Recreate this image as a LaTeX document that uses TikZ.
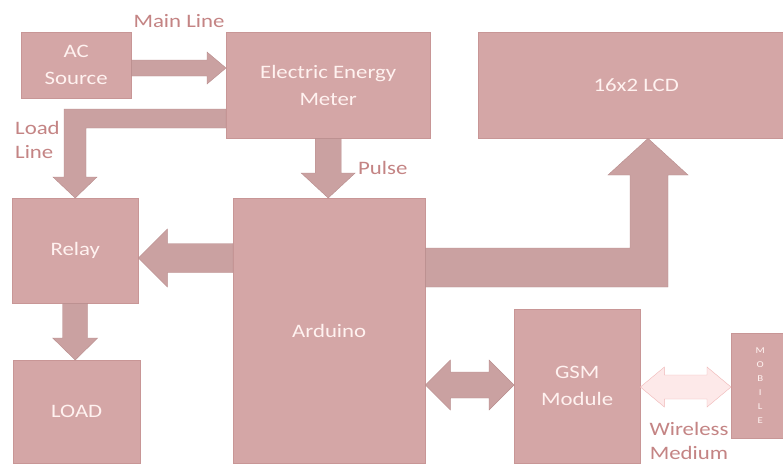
\documentclass[tikz,border=0pt]{standalone}
\usepackage{fontspec}
\setmainfont[FakeStretch=1.2]{Carlito}
\usetikzlibrary{calc,positioning}

\definecolor{boxfill}{RGB}{212,166,166}
\definecolor{boxline}{RGB}{200,150,150}
\definecolor{arrowfill}{RGB}{202,161,161}
\definecolor{arrowline}{RGB}{184,140,140}
\definecolor{boxtext}{RGB}{255,242,240}
\definecolor{labeltext}{RGB}{196,132,132}
\definecolor{palefill}{RGB}{253,233,233}
\definecolor{paleline}{RGB}{240,182,182}

\tikzset{
  block/.style     = {draw=boxline, fill=boxfill, text=boxtext, anchor=north west,
                      inner sep=0pt, align=center, font=\fontsize{19}{27}\selectfont},
  note/.style      = {text=labeltext, inner sep=0pt, align=center,
                      font=\fontsize{19}{24}\selectfont},
  fatarrow/.style  = {draw=arrowline, fill=arrowfill, line join=miter},
  palearrow/.style = {draw=paleline, fill=palefill, line join=miter},
  arr shaft/.store in = \arrshaft, arr shaft=10pt,
  arr head/.store in  = \arrhead,  arr head=20pt,
  arr len/.store in   = \arrlen,   arr len=20pt,
  fat/.style={to path={
    ($(\tikztostart)!\arrshaft!90:(\tikztotarget)$)
    -- ($($(\tikztotarget)!\arrlen!(\tikztostart)$)!\arrshaft!90:(\tikztotarget)$)
    -- ($($(\tikztotarget)!\arrlen!(\tikztostart)$)!\arrhead!90:(\tikztotarget)$)
    -- (\tikztotarget)
    -- ($($(\tikztotarget)!\arrlen!(\tikztostart)$)!\arrhead!-90:(\tikztotarget)$)
    -- ($($(\tikztotarget)!\arrlen!(\tikztostart)$)!\arrshaft!-90:(\tikztotarget)$)
    -- ($(\tikztostart)!\arrshaft!-90:(\tikztotarget)$) -- cycle}},
  fat both/.style={to path={
    (\tikztostart)
    -- ($($(\tikztostart)!\arrlen!(\tikztotarget)$)!\arrhead!90:(\tikztotarget)$)
    -- ($($(\tikztostart)!\arrlen!(\tikztotarget)$)!\arrshaft!90:(\tikztotarget)$)
    -- ($($(\tikztotarget)!\arrlen!(\tikztostart)$)!\arrshaft!90:(\tikztotarget)$)
    -- ($($(\tikztotarget)!\arrlen!(\tikztostart)$)!\arrhead!90:(\tikztotarget)$)
    -- (\tikztotarget)
    -- ($($(\tikztotarget)!\arrlen!(\tikztostart)$)!\arrhead!-90:(\tikztotarget)$)
    -- ($($(\tikztotarget)!\arrlen!(\tikztostart)$)!\arrshaft!-90:(\tikztotarget)$)
    -- ($($(\tikztostart)!\arrlen!(\tikztotarget)$)!\arrshaft!-90:(\tikztotarget)$)
    -- ($($(\tikztostart)!\arrlen!(\tikztotarget)$)!\arrhead!-90:(\tikztotarget)$)
    -- cycle}}
}

\begin{document}
\begin{tikzpicture}[x=1pt, y=-1pt]
    \fill[white] (0,0) rectangle (783,464);
    \useasboundingbox (0,0) rectangle (783,464);

    % blocks
    \node[block, minimum width=110pt, minimum height=66pt]  (ac)      at (21,32)  {AC\\Source};
    \node[block, minimum width=204pt, minimum height=106pt] (meter)   at (226,32) {Electric Energy\\Meter};
    \node[block, minimum width=316pt, minimum height=106pt] (lcd)     at (478,32) {16x2 LCD};
    \node[block, minimum width=126pt, minimum height=105pt] (relay)   at (12,198) {Relay};
    \node[block, minimum width=127pt, minimum height=103pt] (load)    at (13,360) {LOAD};
    \node[block, minimum width=192pt, minimum height=265pt] (arduino) at (233,198) {Arduino};
    \node[block, minimum width=126pt, minimum height=154pt] (gsm)     at (514,309) {GSM\\Module};
    \node[block, minimum width=58pt, minimum height=105pt,
          font=\fontsize{9}{14}\selectfont]                 (mobile)  at (731,333) {M\\O\\B\\I\\L\\E};

    % connectors
    \draw[fatarrow, fat, arr shaft=8pt, arr head=16pt, arr len=19pt]
      (ac.east |- 0,68) to (meter.west |- 0,68);
    \filldraw[fatarrow] (meter.west |- 0,109) -- (64,109) -- (64,177) -- (53,177)
      -- (relay.north) -- (97,177) -- (86,177) -- (86,128) -- (meter.west |- 0,128) -- cycle;
    \draw[fatarrow, fat, arr shaft=13pt, arr head=27pt, arr len=25pt]
      (meter.south) to (meter.south |- arduino.north);
    \draw[fatarrow, fat, arr shaft=14.5pt, arr head=29pt, arr len=29pt]
      (arduino.west |- 0,258) to (relay.east |- 0,258);
    \draw[fatarrow, fat, arr shaft=12.5pt, arr head=22.5pt, arr len=22pt]
      (relay.south) to (relay.south |- load.north);
    \filldraw[fatarrow] (arduino.east |- 0,248) -- (630,248) -- (630,175) -- (608,175)
      -- (lcd.south -| 648,0) -- (688,175) -- (668,175) -- (668,287)
      -- (arduino.east |- 0,287) -- cycle;
    \draw[fatarrow, fat both, arr shaft=13pt, arr head=25pt, arr len=25pt]
      (arduino.east |- 0,385) to (gsm.west |- 0,385);
    \draw[palearrow, fat both, arr shaft=12pt, arr head=20pt, arr len=24pt]
      (gsm.east |- 0,387) to (mobile.west |- 0,387);

    % labels
    \node[note] (mainline) at (179,21)  {Main Line};
    \node[note, align=left, anchor=west] (loadline) at (15,140) {Load\\Line};
    \node[note, anchor=west] (pulse) at (358,168) {Pulse};
    \node[note] (wireless) at (689,441) {Wireless\\Medium};
\end{tikzpicture}
\end{document}
